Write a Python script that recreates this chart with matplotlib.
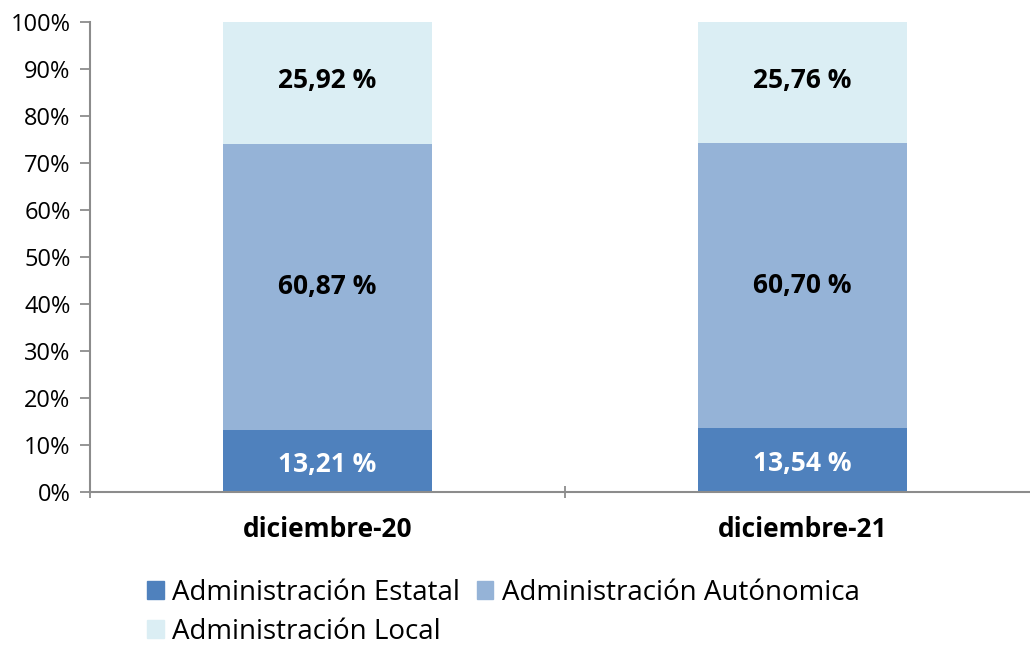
import matplotlib
matplotlib.use('Agg')
import matplotlib.pyplot as plt
from matplotlib.patches import Patch
from matplotlib.ticker import FixedLocator, PercentFormatter
import numpy as np

# ── Data ──────────────────────────────────────────────────────────────────────
categories = ['diciembre-20', 'diciembre-21']
estatal    = [13.21, 13.54]
autonomica = [60.87, 60.70]
local      = [25.92, 25.76]
series_names = ['Administración Estatal', 'Administración Autónomica',
                'Administración Local']

C_EST = '#4F81BD'
C_AUT = '#95B3D7'
C_LOC = '#DBEEF4'
C_AX  = '#8C8C8C'

plt.rcParams['font.family'] = ['Open Sans', 'DejaVu Sans']

fig = plt.figure(figsize=(10.30, 6.48), dpi=100)
ax = fig.add_axes([90/1030, 1 - 492/648, 950/1030, 470/648])

x = np.arange(len(categories))
w = 0.44
ax.bar(x, estatal, w, color=C_EST, zorder=2)
ax.bar(x, autonomica, w, bottom=estatal, color=C_AUT, zorder=2)
bottom3 = np.array(estatal) + np.array(autonomica)
ax.bar(x, local, w, bottom=bottom3, color=C_LOC, zorder=2)

def fmt(v):
    return f'{v:.2f} %'.replace('.', ',')

lab_fs = 19
for i in x:
    ax.text(i, estatal[i] / 2 - 0.8, fmt(estatal[i]), ha='center', va='center',
            fontsize=lab_fs, fontweight='bold', color='white')
    ax.text(i, estatal[i] + autonomica[i] / 2, fmt(autonomica[i]), ha='center',
            va='center', fontsize=lab_fs, fontweight='bold', color='black')
    ax.text(i, bottom3[i] + local[i] / 2 + 0.5, fmt(local[i]), ha='center',
            va='center', fontsize=lab_fs, fontweight='bold', color='black')

ax.set_xlim(-0.5, 1.5)
ax.set_ylim(0, 100)
ax.yaxis.set_major_locator(FixedLocator(np.arange(0, 101, 10)))
ax.yaxis.set_major_formatter(PercentFormatter(decimals=0))

ax.set_xticks(x)
ax.set_xticklabels(categories, fontsize=19, fontweight='bold')
ax.set_xticks([-0.5, 0.5, 1.5], minor=True)
ax.tick_params(axis='x', which='major', length=0, pad=17)
ax.tick_params(axis='x', which='minor', length=9, width=1.3, color=C_AX,
               direction='inout')
ax.tick_params(axis='y', length=7, width=1.3, color=C_AX, labelsize=17, pad=7)

for s in ['top', 'right']:
    ax.spines[s].set_visible(False)
for s in ['left', 'bottom']:
    ax.spines[s].set_color(C_AX)
    ax.spines[s].set_linewidth(1.5)

handles = [Patch(color=C_EST), Patch(color=C_LOC), Patch(color=C_AUT)]
labels = [series_names[0], series_names[2], series_names[1]]
fig.legend(handles, labels, ncol=2, loc='upper left',
           bbox_to_anchor=(147/1030, 1 - 579/648), frameon=False,
           fontsize=20, handlelength=0.6, handleheight=0.6,
           handletextpad=0.3, columnspacing=0.6, labelspacing=0.38,
           borderaxespad=0, borderpad=0)

fig.savefig('out.png', dpi=100, facecolor='white')
